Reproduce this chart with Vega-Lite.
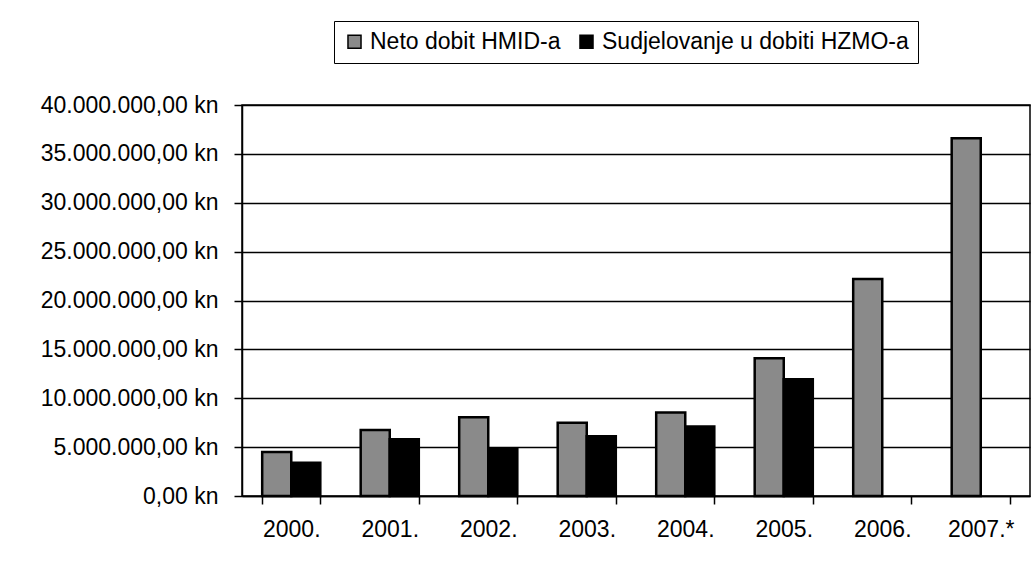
{
  "$schema": "https://vega.github.io/schema/vega-lite/v6.json",
  "width": 788,
  "height": 391,
  "padding": {"left": 242, "top": 105, "right": 2, "bottom": 71},
  "autosize": {"type": "none"},
  "background": "white",
  "config": {
    "font": "Liberation Sans",
    "locale": {"number": {"decimal": ",", "thousands": ".", "grouping": [3], "currency": ["", " kn"]}},
    "view": {"stroke": "black", "strokeWidth": 1.5},
    "axis": {"domainColor": "black", "tickColor": "black", "gridColor": "black", "labelColor": "black", "labelFont": "Liberation Sans"}
  },
  "data": {
    "values": [
      {"godina": "2000.", "serija": "Neto dobit HMID-a", "iznos": 4500000},
      {"godina": "2000.", "serija": "Sudjelovanje u dobiti HZMO-a", "iznos": 3400000},
      {"godina": "2001.", "serija": "Neto dobit HMID-a", "iznos": 6750000},
      {"godina": "2001.", "serija": "Sudjelovanje u dobiti HZMO-a", "iznos": 5800000},
      {"godina": "2002.", "serija": "Neto dobit HMID-a", "iznos": 8050000},
      {"godina": "2002.", "serija": "Sudjelovanje u dobiti HZMO-a", "iznos": 4800000},
      {"godina": "2003.", "serija": "Neto dobit HMID-a", "iznos": 7500000},
      {"godina": "2003.", "serija": "Sudjelovanje u dobiti HZMO-a", "iznos": 6100000},
      {"godina": "2004.", "serija": "Neto dobit HMID-a", "iznos": 8550000},
      {"godina": "2004.", "serija": "Sudjelovanje u dobiti HZMO-a", "iznos": 7100000},
      {"godina": "2005.", "serija": "Neto dobit HMID-a", "iznos": 14100000},
      {"godina": "2005.", "serija": "Sudjelovanje u dobiti HZMO-a", "iznos": 11950000},
      {"godina": "2006.", "serija": "Neto dobit HMID-a", "iznos": 22200000},
      {"godina": "2007.*", "serija": "Neto dobit HMID-a", "iznos": 36600000}
    ]
  },
  "mark": {"type": "bar", "stroke": "black", "strokeWidth": 2.5},
  "encoding": {
    "x": {
      "field": "godina", "type": "nominal", "sort": null,
      "scale": {"paddingInner": 0.41, "paddingOuter": 0.205},
      "axis": {"title": null, "labelAngle": 0, "labelFontSize": 23, "tickBand": "extent", "tickSize": 8, "labelPadding": 14, "domainWidth": 1.5, "tickWidth": 1.5}
    },
    "xOffset": {
      "field": "serija", "type": "nominal",
      "scale": {"domain": ["Neto dobit HMID-a", "Sudjelovanje u dobiti HZMO-a"], "paddingInner": 0, "paddingOuter": 0}
    },
    "y": {
      "field": "iznos", "type": "quantitative",
      "scale": {"domain": [0, 40000000]},
      "axis": {"title": null, "values": [0, 5000000, 10000000, 15000000, 20000000, 25000000, 30000000, 35000000, 40000000], "format": ",.2f", "labelExpr": "datum.label + ' kn'", "labelFontSize": 23, "tickSize": 8, "labelPadding": 16, "gridWidth": 1.5, "domainWidth": 1.5, "tickWidth": 1.5}
    },
    "fill": {
      "field": "serija", "type": "nominal",
      "scale": {"domain": ["Neto dobit HMID-a", "Sudjelovanje u dobiti HZMO-a"], "range": ["#8a8a8a", "#000000"]},
      "legend": {
        "title": null, "orient": "none", "direction": "horizontal", "legendX": 92, "legendY": -84,
        "labelFontSize": 23, "labelColor": "black", "labelLimit": 0, "symbolType": "square", "symbolSize": 170,
        "symbolStrokeColor": "black", "symbolStrokeWidth": 1.5,
        "strokeColor": "black", "padding": 9, "fillColor": "white", "columnPadding": 14, "labelOffset": 4
      }
    }
  }
}
